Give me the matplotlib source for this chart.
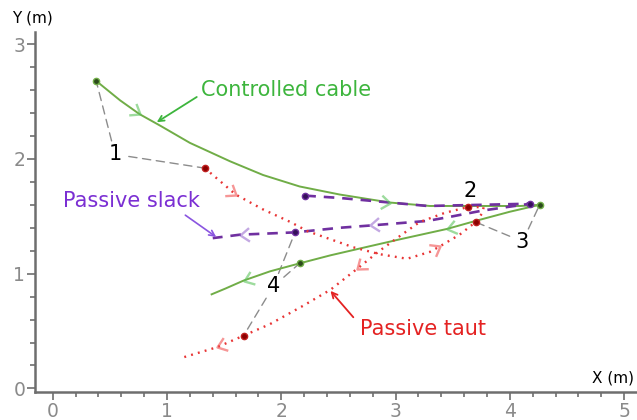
import numpy as np
import matplotlib
matplotlib.use('Agg')
import matplotlib.pyplot as plt
from matplotlib.path import Path
from matplotlib.markers import MarkerStyle
from matplotlib.transforms import Affine2D

## ---------------- data (metres) ----------------
green_x = [0.38, 0.59, 0.76, 0.94, 1.20, 1.55, 1.84, 2.16, 2.51, 2.95, 3.30, 3.74, 4.09, 4.26,
           4.00, 3.70, 3.45, 3.04, 2.69, 2.43, 2.16, 1.90, 1.67, 1.51, 1.39]
green_y = [2.68, 2.51, 2.39, 2.29, 2.14, 1.98, 1.86, 1.76, 1.69, 1.62, 1.59, 1.59, 1.59, 1.60,
           1.54, 1.46, 1.39, 1.30, 1.22, 1.16, 1.09, 1.02, 0.94, 0.87, 0.82]
green_dots = [0, 13, 20]
green_arrows = [2, 9, 16, 22]

purple_x = [2.21, 2.51, 2.95, 3.28, 3.74, 4.18, 3.76, 3.50, 3.28, 2.78, 2.51, 2.12, 1.64, 1.40]
purple_y = [1.68, 1.66, 1.62, 1.59, 1.60, 1.61, 1.55, 1.50, 1.46, 1.42, 1.40, 1.36, 1.34, 1.31]
purple_dots = [0, 5, 11]
purple_arrows = [9, 12]

red_x = [1.33, 1.46, 1.60, 1.84, 2.08, 2.23, 2.43, 2.63, 2.86, 3.10, 3.30, 3.39, 3.56, 3.70,
         3.76, 3.77, 3.63, 3.43, 3.21, 3.04, 2.86, 2.66, 2.43, 2.19, 1.90, 1.67, 1.44, 1.14]
red_y = [1.92, 1.81, 1.69, 1.56, 1.45, 1.37, 1.30, 1.23, 1.17, 1.13, 1.19, 1.24, 1.34, 1.45,
         1.53, 1.58, 1.58, 1.53, 1.45, 1.33, 1.20, 1.04, 0.86, 0.72, 0.56, 0.46, 0.36, 0.27]
red_dots = [0, 13, 16, 25]
red_arrows = [2, 11, 21, 26]

## numbered call-outs: label position and the points they point at
callouts = {
    '1': ((0.545, 2.04), [(0.38, 2.68), (1.33, 1.92)]),
    '2': ((3.65, 1.72), []),
    '3': ((4.11, 1.28), [(3.70, 1.45), (4.26, 1.60)]),
    '4': ((1.93, 0.89), [(2.12, 1.36), (2.16, 1.09), (1.67, 0.46)]),
}

x_ticks = [0, 1, 2, 3, 4, 5]
y_ticks = [0, 1, 2, 3]

GREEN = '#70ad47'
PURPLE = '#7030a0'
RED = '#e83535'

#---------------- figure ----------------
fig = plt.figure(figsize=(6.37, 4.2), dpi=100)
ax = fig.add_axes([0.055, 0.067, 0.945, 0.857])
ax.set_xlim(-0.155, 5.112)
ax.set_ylim(-0.03, 3.107)

for s in ['top', 'right']:
    ax.spines[s].set_visible(False)
for s in ['left', 'bottom']:
    ax.spines[s].set_color('#6e6e6e')
    ax.spines[s].set_linewidth(1.8)

ax.set_xticks(x_ticks)
ax.set_yticks(y_ticks)
ax.set_xticks(np.arange(0, 5.01, 0.2), minor=True)
ax.set_yticks(np.arange(0, 3.01, 0.2), minor=True)
ax.tick_params(which='major', length=6, width=1.2, color='#6e6e6e',
               labelcolor='#8a8a8a', labelsize=13.5, pad=1)
ax.tick_params(which='minor', length=3.5, width=1.2, color='#6e6e6e')

## the three cable paths
ax.plot(green_x, green_y, '-', color=GREEN, lw=1.4, zorder=3)
ax.plot(purple_x, purple_y, color=PURPLE, lw=1.9, ls=(0, (4, 3)), zorder=3)
ax.plot(red_x, red_y, color=RED, lw=1.7, ls=(0, (0.8, 2.2)), zorder=3)

## faded direction chevrons along each path
chev = Path([(-1, 0.75), (0, 0), (-1, -0.75)], [Path.MOVETO, Path.LINETO, Path.LINETO])


def chevrons(xs, ys, idx, color):
    pts = ax.transData.transform(np.column_stack([xs, ys]))
    for i in idx:
        d = pts[i + 1] - pts[i - 1]
        ang = np.degrees(np.arctan2(d[1], d[0]))
        m = MarkerStyle(chev, fillstyle='none', transform=Affine2D().rotate_deg(ang))
        ax.plot(xs[i], ys[i], marker=m, ms=13, mec=color, mew=1.7, alpha=0.6, zorder=4)


chevrons(green_x, green_y, green_arrows, '#5cc45c')
chevrons(purple_x, purple_y, purple_arrows, '#9b6fd0')
chevrons(red_x, red_y, red_arrows, '#f05050')

## dots
ax.plot([green_x[i] for i in green_dots], [green_y[i] for i in green_dots], 'o',
        ms=4.5, mfc='#2c4a1c', mec=GREEN, mew=1, zorder=5)
ax.plot([purple_x[i] for i in purple_dots], [purple_y[i] for i in purple_dots], 'o',
        ms=4.5, mfc='#35105a', mec=PURPLE, mew=1, zorder=5)
ax.plot([red_x[i] for i in red_dots], [red_y[i] for i in red_dots], 'o',
        ms=4.5, mfc='#8b0000', mec='#c02020', mew=1, zorder=5)

## numbered call-outs with grey dashed leaders
for lab, (pos, targets) in callouts.items():
    for t in targets:
        ax.annotate('', xy=t, xytext=pos,
                    arrowprops=dict(arrowstyle='-', color='#8c8c8c', lw=1,
                                    ls=(0, (6, 4)), shrinkA=10, shrinkB=2), zorder=2)
    ax.text(pos[0], pos[1], lab, fontsize=15, color='black', ha='center', va='center', zorder=6)

## series names with pointer arrows
ax.text(1.30, 2.60, 'Controlled cable', fontsize=15, color='#3db53d',
        ha='left', va='center', zorder=6)
ax.annotate('', xy=(0.91, 2.32), xytext=(1.26, 2.54),
            arrowprops=dict(arrowstyle='->', color='#3db53d', lw=1.3, shrinkA=0, shrinkB=0))
ax.text(0.09, 1.63, 'Passive slack', fontsize=15, color='#7b2fd3',
        ha='left', va='center', zorder=6)
ax.annotate('', xy=(1.43, 1.32), xytext=(1.16, 1.51),
            arrowprops=dict(arrowstyle='->', color='#8a55e0', lw=1.2, shrinkA=0, shrinkB=0))
ax.text(2.69, 0.52, 'Passive taut', fontsize=15, color='#e42222',
        ha='left', va='center', zorder=6)
ax.annotate('', xy=(2.43, 0.85), xytext=(2.63, 0.62),
            arrowprops=dict(arrowstyle='->', color='#e42222', lw=1.3, shrinkA=0, shrinkB=0))

## axis titles
fig.text(32 / 637, 1 - 18 / 420, 'Y (m)', fontsize=11, ha='center', va='center')
fig.text(634 / 637, 1 - 378 / 420, 'X (m)', fontsize=11, ha='right', va='center')

fig.savefig('out.png', dpi=100)
